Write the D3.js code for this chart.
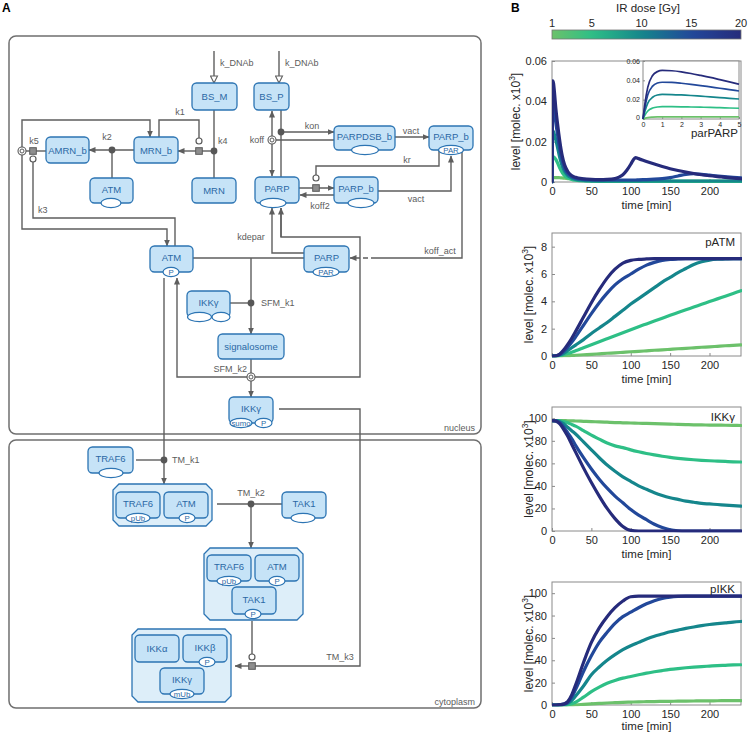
<!DOCTYPE html>
<html><head><meta charset="utf-8">
<script src="https://cdn.jsdelivr.net/npm/d3@7"></script>
<style>body{margin:0;background:#fff}svg{display:block;font-family:"Liberation Sans",Arial,Helvetica,sans-serif}</style>
</head><body><svg id="c" width="748" height="734"></svg>
<script>
// ================= DATA (panel B) =================
const doseLevels = [1, 5, 10, 15, 20];
const doseTicks = [1, 5, 10, 15, 20];
const timeTicks = [0, 50, 100, 150, 200];

const parparpTime = [0,0.5,1,2,3,5,7,10,13,16,20,25,30,40,50,60,70,80,85,90,95,100,103,106,110,120,130,140,150,160,170,180,190,200,215,230,240];
const parparp1  = [0,0.0018,0.0022,0.0022,0.0022,0.0022,0.0022,0.0021,0.002,0.0019,0.0017,0.0015,0.0012,0.0009,0.0007,0.0005,0.0004,0.0003,0.0003,0.0003,0.0003,0.0003,0.0003,0.0003,0.0003,0.0003,0.0003,0.0003,0.0003,0.0003,0.0003,0.0003,0.0003,0.0003,0.0003,0.0003,0.0003];
const parparp5  = [0,0.0115,0.0125,0.0124,0.0122,0.0111,0.0095,0.0068,0.0047,0.0032,0.002,0.0013,0.0009,0.0005,0.0004,0.0003,0.0003,0.0003,0.0003,0.0003,0.0003,0.0003,0.0003,0.0003,0.0003,0.0003,0.0003,0.0003,0.0003,0.0003,0.0003,0.0003,0.0003,0.0003,0.0003,0.0003,0.0003];
const parparp10 = [0,0.023,0.0254,0.0249,0.0236,0.0207,0.0172,0.0118,0.0078,0.0052,0.0032,0.002,0.0013,0.0008,0.0006,0.0005,0.0005,0.0005,0.0005,0.0005,0.0005,0.0005,0.0005,0.0005,0.0005,0.0005,0.0005,0.0005,0.0005,0.0005,0.0005,0.0005,0.0005,0.0005,0.0005,0.0005,0.0005];
const parparp15 = [0,0.034,0.038,0.037,0.0346,0.029,0.0235,0.016,0.0105,0.0068,0.0042,0.0027,0.0019,0.0013,0.0011,0.001,0.001,0.001,0.001,0.001,0.001,0.001,0.001,0.001,0.0011,0.0012,0.0014,0.0017,0.0022,0.003,0.0038,0.0041,0.0038,0.0034,0.0028,0.0023,0.002];
const parparp20 = [0,0.045,0.0502,0.0488,0.0451,0.036,0.029,0.02,0.013,0.0085,0.0052,0.0032,0.0023,0.0016,0.0013,0.0012,0.0013,0.0017,0.0024,0.0036,0.0058,0.0088,0.0108,0.0121,0.0116,0.0102,0.0089,0.0077,0.0066,0.0057,0.0049,0.0042,0.0036,0.0031,0.0025,0.0019,0.0016];

const insetTime = [0,0.1,0.25,0.5,0.75,1,1.5,2,2.5,3,3.5,4,4.5,5];
const inset1  = [0,0.0007,0.0014,0.0019,0.0021,0.0021,0.0021,0.0021,0.0021,0.0021,0.0021,0.0021,0.0021,0.0021];
const inset5  = [0,0.004,0.0083,0.0113,0.0124,0.0127,0.0127,0.0126,0.0124,0.0122,0.012,0.0117,0.0114,0.0111];
const inset10 = [0,0.008,0.0165,0.0225,0.0248,0.0254,0.0253,0.0249,0.0243,0.0236,0.0229,0.0222,0.0214,0.0207];
const inset15 = [0,0.012,0.025,0.034,0.0372,0.038,0.0378,0.037,0.0359,0.0346,0.0332,0.0318,0.0304,0.029];
const inset20 = [0,0.016,0.033,0.045,0.049,0.0502,0.0499,0.0488,0.0471,0.0451,0.043,0.0407,0.0384,0.036];

const simTime = [0,5,10,15,20,25,30,40,50,60,70,80,90,100,110,120,130,140,150,160,170,180,190,200,210,220,230,240];
const patm1  = [0,0,0.01,0.02,0.03,0.04,0.055,0.09,0.12,0.16,0.2,0.23,0.27,0.31,0.34,0.38,0.42,0.45,0.49,0.53,0.56,0.6,0.64,0.67,0.71,0.75,0.78,0.82];
const patm5  = [0,0.01,0.04,0.1,0.18,0.28,0.38,0.6,0.82,1.04,1.26,1.48,1.7,1.92,2.14,2.35,2.56,2.77,2.98,3.18,3.38,3.58,3.78,3.98,4.18,4.38,4.58,4.78];
const patm10 = [0,0.01,0.08,0.2,0.4,0.6,0.8,1.2,1.65,2.05,2.45,2.9,3.35,3.8,4.2,4.6,5.0,5.4,5.75,6.1,6.4,6.7,6.9,7.02,7.08,7.1,7.12,7.12];
const patm15 = [0,0.02,0.12,0.35,0.65,1.0,1.4,2.25,3.1,3.9,4.6,5.2,5.65,6.0,6.35,6.65,6.85,7.0,7.07,7.1,7.12,7.12,7.12,7.12,7.12,7.12,7.12,7.12];
const patm20 = [0,0.02,0.15,0.45,0.85,1.3,1.8,2.85,3.9,4.85,5.7,6.35,6.8,7.0,7.07,7.1,7.12,7.12,7.12,7.12,7.12,7.12,7.12,7.12,7.12,7.12,7.12,7.12];

const ikkg1  = [98,98,98,97.9,97.8,97.7,97.6,97.3,97,96.8,96.5,96.2,96,95.8,95.6,95.4,95.2,95,94.8,94.6,94.4,94.2,94.1,94,93.9,93.8,93.7,93.6];
const ikkg5  = [98,98,97.8,97,96,94.5,93,89,85,81.5,78,75.5,74,72,70.3,68.8,67.5,66.3,65.3,64.5,63.8,63.2,62.7,62.3,62,61.7,61.4,61.2];
const ikkg10 = [98,98,97,95,92,89,86,79,72,65,58.5,53,48,44,40,37,34,31.5,29.5,28,26.5,25.5,24.5,24,23.5,23,22.5,22];
const ikkg15 = [98,97.8,96,92,87,82,76,65,55,46,38,31,25,19,14,10,6,3,1,0.2,0,0,0,0,0,0,0,0];
const ikkg20 = [98,97.5,95,90,84,77,70,56,43,31,20,11,4,0.5,0,0,0,0,0,0,0,0,0,0,0,0,0,0];

const pikk1  = [0,0,0,0,0,0.1,0.2,0.6,1,1.4,1.8,2.1,2.4,2.6,2.8,2.95,3.1,3.2,3.3,3.4,3.5,3.6,3.7,3.75,3.8,3.85,3.9,4];
const pikk5  = [0,0,0,0.1,0.4,1.2,2.5,7,12,16,19.5,22,24,25.5,27,28.5,29.7,30.8,31.8,32.6,33.3,33.9,34.4,34.8,35.2,35.5,35.8,36];
const pikk10 = [0,0,0.1,0.5,1.5,4,8,17,27,34,40,45,49.5,53,56,59,61.5,63.5,65.5,67,68.5,69.8,71,72,72.8,73.5,74.2,74.7];
const pikk15 = [0,0,0.2,0.8,2.5,7,14,30,44,56,65,73,79,83,87,90.5,93.3,95.3,96.5,97.1,97.3,97.3,97.3,97.3,97.3,97.3,97.3,97.3];
const pikk20 = [0,0,0.3,1,3,9,18,38,56,69,79,87,93,96.8,97.3,97.3,97.3,97.3,97.3,97.3,97.3,97.3,97.3,97.3,97.3,97.3,97.3,97.3];

// ================= SETUP =================
const svg = d3.select("#c");
const FONT = '"Liberation Sans",Arial,Helvetica,sans-serif';
const NF = "#c6e3f7", NS = "#2c74b3", NT = "#2a68a5", CF = "#ddeef9", LC = "#5e5e5e", LT = "#5c5c5c";
const doseColor = d3.scaleLinear().domain([1,5,10,15,20]).range(["#6cc16b","#2ebf86","#15868c","#22489a","#262b7b"]);

const defs = svg.append("defs");
function marker(id, hollow, start){
  const m = defs.append("marker").attr("id",id).attr("markerUnits","userSpaceOnUse")
    .attr("orient", start ? "auto-start-reverse" : "auto");
  if(hollow){
    m.attr("viewBox","-1 -1 9.5 9").attr("refX",7).attr("refY",3.5).attr("markerWidth",9.5).attr("markerHeight",9);
    m.append("path").attr("d","M0,0L7,3.5L0,7Z").attr("fill","#fff").attr("stroke",LC).attr("stroke-width",1.1);
  } else {
    m.attr("viewBox","0 0 7 6").attr("refX",6.5).attr("refY",3).attr("markerWidth",7).attr("markerHeight",6);
    m.append("path").attr("d","M0,0L7,3L0,6Z").attr("fill",LC);
  }
}
marker("arr",false,false); marker("arrs",false,true); marker("harr",true,false);

// ================= PANEL A =================
const A = svg.append("g");
A.append("text").attr("x",2).attr("y",12).attr("font-size",12).attr("font-weight","bold").text("A");

A.append("rect").attr("x",9).attr("y",36).attr("width",472).attr("height",398).attr("rx",7)
  .attr("fill","none").attr("stroke","#6f6f6f").attr("stroke-width",1.5);
A.append("rect").attr("x",9).attr("y",440).attr("width",472).attr("height",268).attr("rx",7)
  .attr("fill","none").attr("stroke","#6f6f6f").attr("stroke-width",1.5);

const lineG = A.append("g");
const glyphG = A.append("g");
const nodeG = A.append("g");

function ln(pts, o={}){
  const p = lineG.append("path").attr("d", d3.line()(pts)).attr("fill","none")
    .attr("stroke",LC).attr("stroke-width",1.4);
  if(o.arrow) p.attr("marker-end","url(#arr)");
  if(o.start) p.attr("marker-start","url(#arrs)");
  if(o.hollow) p.attr("marker-end","url(#harr)");
  if(o.dash) p.attr("stroke-dasharray",o.dash);
  return p;
}
function dot(x,y){ glyphG.append("circle").attr("cx",x).attr("cy",y).attr("r",3.4).attr("fill","#575757"); }
function sq(x,y){ glyphG.append("rect").attr("x",x-3.3).attr("y",y-3.3).attr("width",6.6).attr("height",6.6).attr("fill","#8e8e8e").attr("stroke","#5a5a5a").attr("stroke-width",1); }
function oc(x,y){ glyphG.append("circle").attr("cx",x).attr("cy",y).attr("r",3).attr("fill","#fff").attr("stroke","#5a5a5a").attr("stroke-width",1.2); }
function dc(x,y){
  glyphG.append("circle").attr("cx",x).attr("cy",y).attr("r",4).attr("fill","#fff").attr("stroke","#5a5a5a").attr("stroke-width",1.1);
  glyphG.append("circle").attr("cx",x).attr("cy",y).attr("r",2).attr("fill","none").attr("stroke","#5a5a5a").attr("stroke-width",1);
}
function node(x,y,w,h,label,mods=[]){
  nodeG.append("rect").attr("x",x).attr("y",y).attr("width",w).attr("height",h).attr("rx",4.5)
    .attr("fill",NF).attr("stroke",NS).attr("stroke-width",1.3);
  nodeG.append("text").attr("x",x+w/2).attr("y",y+h/2-(mods.length?1.5:0)).attr("text-anchor","middle")
    .attr("dominant-baseline","central").attr("font-size",9.5).attr("fill",NT).text(label);
  mods.forEach(m=>{
    nodeG.append("ellipse").attr("cx",m[0]).attr("cy",y+h).attr("rx",m[1]).attr("ry",4.6)
      .attr("fill","#fff").attr("stroke",NS).attr("stroke-width",1.2);
    if(m[2]) nodeG.append("text").attr("x",m[0]).attr("y",y+h+0.4).attr("text-anchor","middle")
      .attr("dominant-baseline","central").attr("font-size",7.8).attr("fill",NT).text(m[2]);
  });
}
function complex(x,y,w,h){
  const c=6;
  nodeG.append("path").attr("d", d3.line()([[x+c,y],[x+w-c,y],[x+w,y+c],[x+w,y+h-c],[x+w-c,y+h],[x+c,y+h],[x,y+h-c],[x,y+c]])+"Z")
    .attr("fill",CF).attr("stroke",NS).attr("stroke-width",1.3);
}
function lab(t,x,y,anchor="middle"){
  A.append("text").attr("x",x).attr("y",y).attr("text-anchor",anchor).attr("font-size",9).attr("fill",LT).text(t);
}

// ---- lines / arcs ----
ln([[214,51],[214,83]],{hollow:true});
ln([[279,51],[279,83]],{hollow:true});
ln([[214,110],[214,178]]);
ln([[214,151],[196,151]]);
ln([[196,151],[178,151]],{arrow:true});
ln([[199,138],[199,120],[159,120],[159,137]]);
ln([[134,150],[89,150]],{arrow:true});
ln([[112,150],[112,178]]);
ln([[46,151],[26,151]]);
ln([[22,147],[22,120],[150,120],[150,137]],{arrow:true});
ln([[22,155],[22,229],[167,229],[167,246]],{arrow:true});
ln([[33,162],[33,218],[175,218],[175,246]]);
ln([[272,111],[272,176]],{arrow:true,start:true});
ln([[276,140],[334,140]]);
ln([[281,110],[281,177]]);
ln([[281,132],[334,132]],{arrow:true});
ln([[395,137],[429,137]],{arrow:true});
ln([[439,150],[439,166],[316,166],[316,175]]);
ln([[299,188],[334,188]],{arrow:true});
ln([[334,195],[300,195]],{arrow:true});
ln([[378,191],[451,191],[451,156]],{arrow:true});
ln([[462,151],[462,258],[371,258]]);
ln([[368,258],[350,258]],{arrow:true,dash:"5,3"});
ln([[304,253],[272,253],[272,208]],{arrow:true});
ln([[281,208],[281,237],[360,237],[360,377],[177,377],[177,278]],{arrow:true});
ln([[281,237],[281,208]],{arrow:true});
ln([[193,258],[304,258]]);
ln([[251,258],[251,334]],{arrow:true});
ln([[230,303],[251,303]]);
ln([[251,359],[251,373]]);
ln([[251,381],[251,397]],{arrow:true});
ln([[279,409],[360,409],[360,666],[255,666]]);
ln([[249,666],[235,666]],{arrow:true});
ln([[252,621],[252,654]]);
ln([[164,278],[164,460]]);
ln([[136,460],[164,460]]);
ln([[164,460],[164,484]],{arrow:true});
ln([[217,504],[282,504]]);
ln([[251,504],[251,548]],{arrow:true});

// ---- glyphs ----
dot(214,151); sq(199,151); oc(199,141);
dot(112,150);
sq(33,151); dc(22,151); oc(33,159);
dc(272,140); dot(281,132);
oc(316,178); sq(316,188);
dot(251,303); dc(251,377);
dot(164,460); dot(251,504);
oc(252,657); sq(252,666);

// ---- nodes ----
node(192,83,45,27,"BS_M");
node(254,83,35,27,"BS_P");
node(134,137,44,26,"MRN_b");
node(46,137,43,26,"AMRN_b");
node(90,178,43,25,"ATM",[[111,10,""]]);
node(192,178,44,25,"MRN");
node(334,126,61,24,"PARPDSB_b",[[365,13.5,""]]);
node(429,126,44,24,"PARP_b",[[451,12.5,"PAR"]]);
node(255,177,44,26,"PARP",[[273,13,""]]);
node(334,177,44,26,"PARP_b",[[361,13,""]]);
node(150,246,43,26,"ATM",[[171,8,"P"]]);
node(304,246,45,26,"PARP",[[326,13,"PAR"]]);
node(187,291,43,26,"IKKγ",[[199.5,12,""],[221,9,""]]);
node(218,334,66,25,"signalosome");
node(229,397,44,26,"IKKγ",[[241,11,"sumo"],[263.5,8.5,"P"]]);
node(88,447,45,26,"TRAF6",[[111,12,""]]);
complex(113,484,99,42);
node(116,492,44,26,"TRAF6",[[138,12,"pUb"]]);
node(164,492,44,26,"ATM",[[187,8,"P"]]);
node(282,492,44,26,"TAK1",[[303,12,""]]);
complex(204,548,99,72);
node(207,555,44,26,"TRAF6",[[229,12,"pUb"]]);
node(255,555,44,26,"ATM",[[277,8,"P"]]);
node(232,587,44,27,"TAK1",[[253,8,"P"]]);
complex(132,629,99,73);
node(135,635,44,27,"IKKα");
node(183,635,44,27,"IKKβ",[[207,8,"P"]]);
node(160,668,44,26,"IKKγ",[[182,12,"mUb"]]);

// ---- reaction labels ----
lab("k_DNAb",220,66,"start"); lab("k_DNAb",285,66,"start");
lab("k1",180,115); lab("k4",218,144,"start"); lab("k2",107,140); lab("k5",34,144); lab("k3",38,213,"start");
lab("koff",264,143,"end"); lab("kon",312,129); lab("vact",411,134); lab("kr",407,163);
lab("koff2",320,209); lab("vact",416,202); lab("koff_act",440,254); lab("kdepar",251,240);
lab("SFM_k1",261,306,"start"); lab("SFM_k2",247,372,"end");
lab("TM_k1",172,463,"start"); lab("TM_k2",251,496); lab("TM_k3",340,660);
lab("nucleus",475,431,"end"); lab("cytoplasm",475,705,"end");

// ================= PANEL B =================
const B = svg.append("g");
B.append("text").attr("x",511).attr("y",12).attr("font-size",12).attr("font-weight","bold").text("B");

const cbX = d3.scaleLinear().domain([1,20]).range([552,741]);
const grad = defs.append("linearGradient").attr("id","cbg").attr("x1","0%").attr("x2","100%");
d3.range(0,1.0001,0.05).forEach(f=>{
  grad.append("stop").attr("offset",(f*100)+"%").attr("stop-color",doseColor(1+19*f));
});
B.append("rect").attr("x",cbX(1)).attr("y",30).attr("width",cbX(20)-cbX(1)).attr("height",9)
  .attr("fill","url(#cbg)").attr("stroke","#777").attr("stroke-width",0.8);
B.selectAll(".cbt").data(doseTicks).join("text").attr("x",d=>cbX(d)).attr("y",27)
  .attr("text-anchor","middle").attr("font-size",11).attr("fill","#262626").text(d=>d);
B.append("text").attr("x",648).attr("y",12).attr("text-anchor","middle").attr("font-size",11.5).attr("fill","#262626").text("IR dose [Gy]");

const x = d3.scaleLinear().domain([0,240]).range([552,741]);

function chart(o){
  const g = B.append("g");
  const y = d3.scaleLinear().domain([0,o.ymax]).range([o.bottom,o.top]);
  g.append("rect").attr("x",x(0)).attr("y",o.top).attr("width",x(240)-x(0)).attr("height",o.bottom-o.top)
    .attr("fill","#fff").attr("stroke","#8a8a8a").attr("stroke-width",1);
  const ax = g.append("g").attr("transform",`translate(0,${o.bottom})`)
    .call(d3.axisBottom(x).tickValues(timeTicks).tickFormat(d3.format("d")).tickSizeInner(-3).tickSizeOuter(0).tickPadding(5));
  const ay = g.append("g").attr("transform",`translate(${x(0)},0)`)
    .call(d3.axisLeft(y).tickValues(o.ticks).tickFormat(o.fmt).tickSizeInner(-3).tickSizeOuter(0).tickPadding(5));
  [ax,ay].forEach(a=>{
    a.select(".domain").remove();
    a.selectAll("line").attr("stroke","#8a8a8a");
    a.selectAll("text").attr("font-size",11).attr("fill","#262626").attr("font-family",FONT);
  });
  const cid = "clip"+o.id;
  defs.append("clipPath").attr("id",cid).append("rect").attr("x",x(0)).attr("y",o.top-2)
    .attr("width",x(240)-x(0)+1).attr("height",o.bottom-o.top+3.5);
  const line = d3.line().x((d,i)=>x(o.time[i])).y(d=>y(d)).curve(d3.curveMonotoneX);
  g.append("g").attr("clip-path",`url(#${cid})`).selectAll("path").data(o.series).join("path")
    .attr("d",d=>line(d)).attr("fill","none").attr("stroke",(d,i)=>doseColor(doseLevels[i]))
    .attr("stroke-width",3.2).attr("stroke-linejoin","round").attr("stroke-linecap","round");
  const yl = g.append("text").attr("transform",`translate(${o.ylx},${(o.top+o.bottom)/2}) rotate(-90)`)
    .attr("text-anchor","middle").attr("font-size",12).attr("fill","#262626");
  yl.append("tspan").text("level [molec. x10");
  yl.append("tspan").attr("dy",-5).attr("font-size",8.5).text("3");
  yl.append("tspan").attr("dy",5).text("]");
  g.append("text").attr("x",(x(0)+x(240))/2).attr("y",o.bottom+o.xlOff).attr("text-anchor","middle")
    .attr("font-size",11.5).attr("fill","#262626").text("time [min]");
  if(o.label) g.append("text").attr("x",735).attr("y",o.labelY).attr("text-anchor","end")
    .attr("font-size",11.5).attr("fill","#262626").text(o.label);
  return g;
}

chart({id:1, top:61, bottom:182, ymax:0.06, ticks:[0,0.02,0.04,0.06], fmt:d=>d===0?"0":d3.format(".2f")(d),
  time:parparpTime, series:[parparp1,parparp5,parparp10,parparp15,parparp20], ylx:520, xlOff:27});
chart({id:2, top:233, bottom:356, ymax:9, ticks:[0,2,4,6,8], fmt:d3.format("d"),
  time:simTime, series:[patm1,patm5,patm10,patm15,patm20], label:"pATM", labelY:246, ylx:533, xlOff:27});
chart({id:3, top:407, bottom:531, ymax:110, ticks:[0,20,40,60,80,100], fmt:d3.format("d"),
  time:simTime, series:[ikkg1,ikkg5,ikkg10,ikkg15,ikkg20], label:"IKKγ", labelY:421, ylx:533, xlOff:27});
chart({id:4, top:582, bottom:705, ymax:110, ticks:[0,20,40,60,80,100], fmt:d3.format("d"),
  time:simTime, series:[pikk1,pikk5,pikk10,pikk15,pikk20], label:"pIKK", labelY:593, ylx:533, xlOff:25});

// inset
const ix = d3.scaleLinear().domain([0,5]).range([643,739]);
const iy = d3.scaleLinear().domain([0,0.06]).range([119,61]);
const ig = B.append("g");
ig.append("rect").attr("x",ix(0)).attr("y",iy(0.06)).attr("width",ix(5)-ix(0)).attr("height",iy(0)-iy(0.06))
  .attr("fill","#fff").attr("stroke","#8a8a8a").attr("stroke-width",1);
const iax = ig.append("g").attr("transform",`translate(0,${iy(0)})`)
  .call(d3.axisBottom(ix).tickValues([0,1,2,3,4,5]).tickFormat(d3.format("d")).tickSizeInner(-2).tickSizeOuter(0).tickPadding(3));
const iay = ig.append("g").attr("transform",`translate(${ix(0)},0)`)
  .call(d3.axisLeft(iy).tickValues([0,0.02,0.04,0.06]).tickFormat(d=>d===0?"0":d3.format(".2f")(d)).tickSizeInner(-2).tickSizeOuter(0).tickPadding(3));
[iax,iay].forEach(a=>{
  a.select(".domain").remove();
  a.selectAll("line").attr("stroke","#8a8a8a");
  a.selectAll("text").attr("font-size",7).attr("fill","#262626").attr("font-family",FONT);
});
iay.selectAll(".tick").filter(d=>d===0).select("text").attr("dy","0.1em");
const iline = d3.line().x((d,i)=>ix(insetTime[i])).y(d=>iy(d)).curve(d3.curveMonotoneX);
ig.selectAll("path.il").data([inset1,inset5,inset10,inset15,inset20]).join("path").attr("class","il")
  .attr("d",d=>iline(d)).attr("fill","none").attr("stroke",(d,i)=>doseColor(doseLevels[i])).attr("stroke-width",1.7);
ig.append("text").attr("x",738).attr("y",137).attr("text-anchor","end").attr("font-size",11.5).attr("fill","#262626").text("parPARP");
</script></body></html>
